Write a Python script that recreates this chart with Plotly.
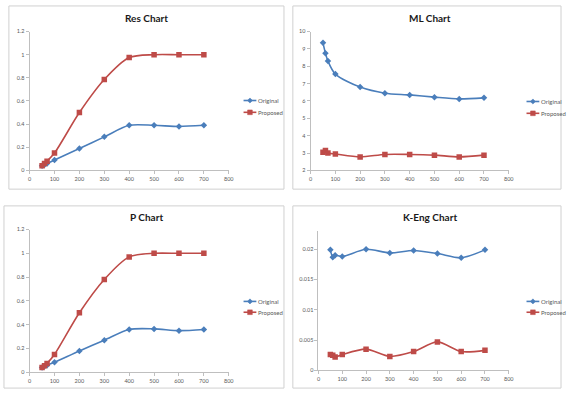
import plotly.graph_objects as go

W, H = 568, 396

x_vals = [50, 60, 70, 100, 200, 300, 400, 500, 600, 700]

res_original = [0.04, 0.05, 0.06, 0.09, 0.19, 0.29, 0.39, 0.39, 0.38, 0.39]
res_proposed = [0.04, 0.06, 0.08, 0.15, 0.50, 0.785, 0.975, 1.0, 1.0, 1.0]

ml_original = [9.35, 8.75, 8.3, 7.55, 6.8, 6.45, 6.35, 6.22, 6.12, 6.18]
ml_proposed = [3.05, 3.15, 3.0, 2.95, 2.78, 2.92, 2.92, 2.88, 2.78, 2.88]

p_original = [0.04, 0.05, 0.06, 0.085, 0.18, 0.27, 0.36, 0.365, 0.35, 0.36]
p_proposed = [0.04, 0.055, 0.075, 0.15, 0.50, 0.78, 0.97, 1.0, 1.0, 1.0]

keng_original = [0.0199, 0.0187, 0.019, 0.0188, 0.0200, 0.0194, 0.0198, 0.0193, 0.0186, 0.0199]
keng_proposed = [0.0026, 0.0025, 0.0022, 0.0026, 0.0035, 0.0023, 0.0031, 0.0047, 0.0031, 0.0033]

titles = ["Res Chart", "ML Chart", "P Chart", "K-Eng Chart"]
series_names = ["Original", "Proposed"]

BLUE = "#4A7EBB"
RED = "#BE4B48"
AXIS = "#BFBFBF"
TXT = "#595959"
NARROW = "Liberation Sans Narrow, Arial Narrow, Lato, sans-serif"

# panel layout in pixels: plot area (x0, x1, ytop, ybottom), box, title pos, legend pos
panels = [
    dict(plot=(28, 230, 29, 170), box=(7, 286, 3, 189), title=(147, 15), legend=(245, 99, 111),
         y=(res_original, res_proposed), yr=[0, 1.2], dt=0.2),
    dict(plot=(313, 514, 29, 170), box=(295, 567, 3, 189), title=(434, 15), legend=(532, 100, 112),
         y=(ml_original, ml_proposed), yr=[2, 10], dt=1),
    dict(plot=(28, 230, 230, 375), box=(2, 286, 206, 391), title=(147, 217), legend=(245, 303, 314),
         y=(p_original, p_proposed), yr=[0, 1.2], dt=0.2),
    dict(plot=(321, 514, 231, 373), box=(295, 567, 206, 391), title=(434, 217), legend=(532, 303, 314),
         y=(keng_original, keng_proposed), yr=[0, 0.0231], dt=0.005),
]

styles = [(BLUE, "diamond", 5), (RED, "square", 5.5)]


def px(x):
    return x / W


def py(y):
    return 1 - y / H


fig = go.Figure()
layout = dict(
    width=W, height=H, margin=dict(l=0, r=0, t=0, b=0),
    paper_bgcolor="white", plot_bgcolor="white", showlegend=False,
    font=dict(family="Lato, Liberation Sans, sans-serif", color=TXT, size=6),
    shapes=[], annotations=[],
)

for i, p in enumerate(panels):
    n = "" if i == 0 else str(i + 1)
    x0, x1, yt, yb = p["plot"]
    xa = "x" + n
    ya = "y" + n
    for s, (color, sym, size) in enumerate(styles):
        fig.add_trace(go.Scatter(
            x=x_vals, y=p["y"][s], name=series_names[s], mode="lines+markers",
            line=dict(color=color, width=1.6, shape="spline", smoothing=0.8),
            marker=dict(symbol=sym, size=size, color=color),
            xaxis=xa, yaxis=ya,
        ))
    common = dict(showgrid=False, zeroline=False, showline=True, linecolor=AXIS,
                  linewidth=1, ticks="outside", ticklen=3, tickcolor=AXIS,
                  tickfont=dict(size=5.5, color=TXT), fixedrange=True)
    layout["xaxis" + n] = dict(domain=[px(x0), px(x1)], range=[0, 800], dtick=100, tick0=0,
                               anchor=ya, **common)
    layout["yaxis" + n] = dict(domain=[py(yb), py(yt)], range=p["yr"], dtick=p["dt"], tick0=0,
                               anchor=xa, **common)

    # legend (drawn manually, compact like the original)
    lx, ly1, ly2 = p["legend"]
    for s, ly in enumerate([ly1, ly2]):
        color, sym, size = styles[s]
        layout["shapes"].append(dict(
            type="line", xref="paper", yref="paper",
            x0=px(lx), x1=px(lx + 13), y0=py(ly), y1=py(ly),
            line=dict(color=color, width=1.6),
        ))
        cx = lx + 6.5
        if sym == "diamond":
            d = 2.6
            path = f"M {px(cx - d)},{py(ly)} L {px(cx)},{py(ly - d)} L {px(cx + d)},{py(ly)} L {px(cx)},{py(ly + d)} Z"
        else:
            d = 2.4
            path = (f"M {px(cx - d)},{py(ly - d)} L {px(cx + d)},{py(ly - d)} "
                    f"L {px(cx + d)},{py(ly + d)} L {px(cx - d)},{py(ly + d)} Z")
        layout["shapes"].append(dict(
            type="path", xref="paper", yref="paper", path=path,
            fillcolor=color, line=dict(color=color, width=0.5),
        ))
        layout["annotations"].append(dict(
            text=series_names[s], x=px(lx + 13.5), y=py(ly), xref="paper", yref="paper",
            xanchor="left", yanchor="middle", showarrow=False,
            font=dict(size=6, color=TXT, family=NARROW), borderpad=0,
        ))

    bx0, bx1, by0, by1 = p["box"]
    layout["shapes"].append(dict(
        type="rect", xref="paper", yref="paper",
        x0=px(bx0), x1=px(bx1), y0=py(by1), y1=py(by0),
        line=dict(color="#D0D0D0", width=1), fillcolor="rgba(0,0,0,0)", layer="below",
    ))
    tx, ty = p["title"]
    layout["annotations"].append(dict(
        text="<b>" + titles[i] + "</b>", x=px(tx), y=py(ty), xref="paper", yref="paper",
        xanchor="center", yanchor="middle", showarrow=False,
        font=dict(size=10, color="#1a1a1a", family="Lato, Liberation Sans, sans-serif"),
    ))

fig.update_layout(**layout)
fig.write_html(
    "out.html",
    config={"displayModeBar": False, "staticPlot": True},
    post_script="document.body.style.margin='0px';document.body.style.overflow='hidden';",
)
